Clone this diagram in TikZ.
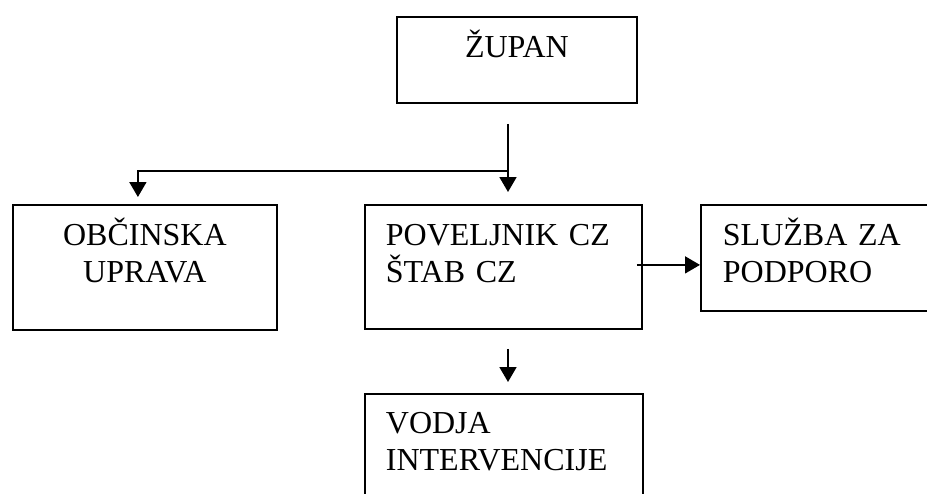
\documentclass[tikz,border=0pt]{standalone}
\usepackage{fontspec}
\setmainfont{Liberation Serif}
\usepackage{tikz}
\usetikzlibrary{arrows,arrows.meta,calc,positioning}
\tikzset{
  org_box/.style = {draw, rectangle, line width=1.8pt, inner ysep=0pt, anchor=north west,
  font=\fontsize{32}{37}\selectfont},
  box_c/.style = {org_box, inner xsep=0pt, align=center},
  box_l/.style = {org_box, align=left}
}

\begin{document}
\begin{tikzpicture}[x=1pt,y=-1pt,
        link/.style={line width=1.8pt, -{Triangle[length=15pt,width=17pt]}}]
        \useasboundingbox (0,0) rectangle (927,493);
        % boxes
        \node [box_c, text width=240pt, text height=41pt, text depth=45pt] (zupan) at (396,16) {ŽUPAN};
        \node [box_c, text width=264pt, text height=41pt, text depth=84pt] (obcinska) at (12,204) {OBČINSKA\\UPRAVA};
        \node [box_l, inner xsep=21pt, text width=235pt, text height=41pt, text depth=83pt] (povel) at (364,204) {POVELJNIK~CZ\\ŠTAB~CZ};
        \node [box_l, inner xsep=22pt, text width=206pt, text height=41pt, text depth=65pt] (sluzba) at (700,204) {SLUŽBA~ZA\\PODPORO};
        \node [box_l, inner xsep=21pt, text width=236pt, text height=40pt, text depth=80pt] (vodja) at (364,393) {VODJA\\INTERVENCIJE};
        % links
        \coordinate (split) at (508,171);
        \draw [link, shorten <=20pt, shorten >=12pt] (zupan.south -| split) -- (povel.north -| split);
        \draw [link, shorten >=7pt] (split) -| ([xshift=-7pt]obcinska.north);
        \draw [link, shorten <=-6pt] ([yshift=2pt]povel.east) -- ([yshift=2pt]povel.east -| sluzba.west);
        \draw [link, shorten <=19pt, shorten >=11pt] (povel.south -| split) -- (vodja.north -| split);
\end{tikzpicture}
\end{document}
